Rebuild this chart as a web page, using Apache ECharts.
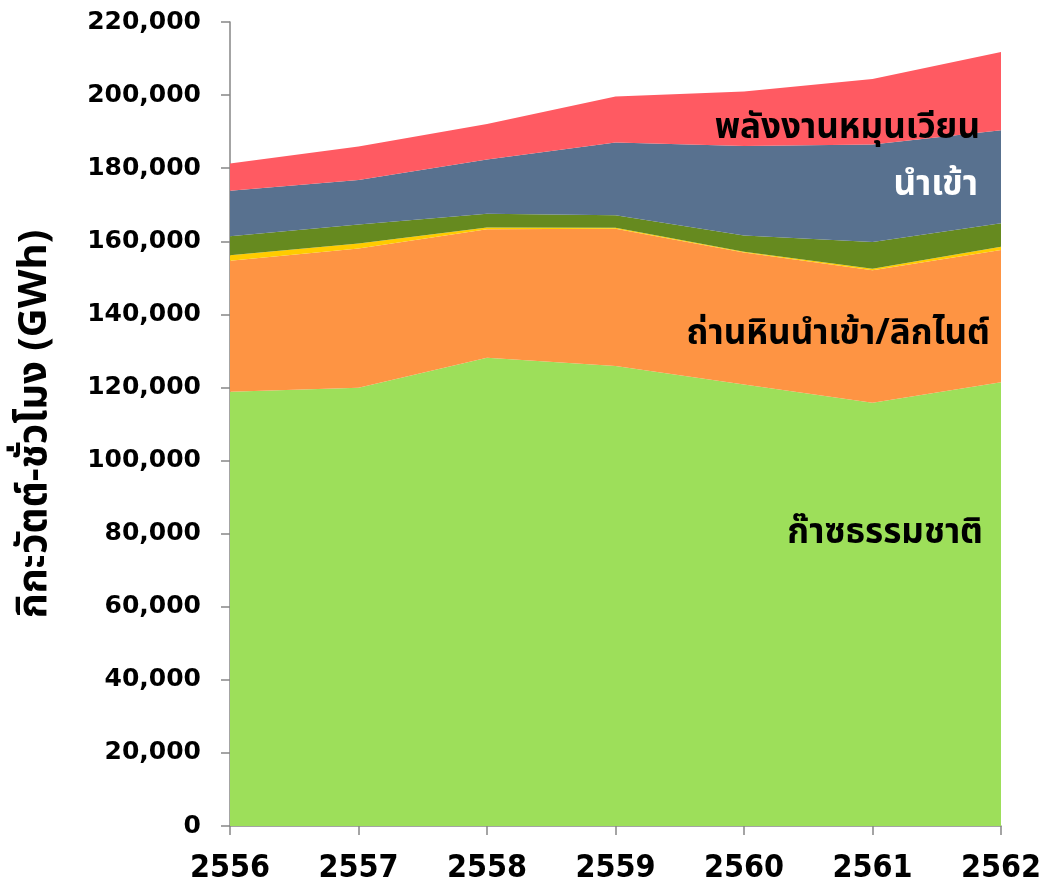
<!DOCTYPE html>
<html>
<head>
<meta charset="utf-8">
<script src="https://cdn.jsdelivr.net/npm/echarts@6/dist/echarts.min.js"></script>
<style>
  html, body { margin: 0; padding: 0; background: #fff; }
  #chart { width: 1041px; height: 886px; }
</style>
</head>
<body>
<div id="chart"></div>
<script>
// ปี พ.ศ.
const years = ["2556", "2557", "2558", "2559", "2560", "2561", "2562"];

// GWh, อ่านจากภาพ
const gas = [118800, 119900, 128100, 125900, 120800, 115800, 121400];
const coal = [35900, 38100, 35200, 37500, 36100, 36300, 36200];
const oil = [1500, 1400, 500, 300, 200, 400, 900];
const hydro = [5200, 5200, 3700, 3400, 4500, 7300, 6400];
const imported = [12400, 12200, 14900, 19900, 24500, 26700, 25500];
const renewable = [7500, 9100, 9700, 12600, 14900, 17900, 21400];

const yTicks = [0, 20000, 40000, 60000, 80000, 100000, 120000, 140000, 160000, 180000, 200000, 220000];

const thaiFont = "Tahoma, 'Noto Sans Thai', 'DejaVu Sans', sans-serif";

function area(name, data, color) {
  return {
    name: name,
    type: "line",
    stack: "total",
    data: data,
    symbol: "none",
    lineStyle: { width: 0 },
    areaStyle: { color: color, opacity: 1 },
    itemStyle: { color: color },
  };
}

// ป้ายชื่อในพื้นที่ (จุดยึดด้านขวา กึ่งกลางแนวตั้ง)
function label(text, x, y, fill) {
  return {
    type: "text",
    x: x,
    y: y,
    z: 100,
    style: {
      text: text,
      fill: fill,
      font: "bold 35px " + thaiFont,
      align: "right",
      verticalAlign: "middle",
    },
  };
}

const chart = echarts.init(document.getElementById("chart"));
chart.setOption({
  animation: false,
  grid: { left: 230, right: 40, top: 22, bottom: 60, outerBoundsMode: "none", containLabel: false },
  xAxis: {
    type: "category",
    data: years,
    boundaryGap: false,
    axisLine: { lineStyle: { color: "#868686", width: 1.5 } },
    axisTick: { length: 9, lineStyle: { color: "#868686", width: 1.5 } },
    axisLabel: {
      margin: 27,
      color: "#000",
      fontFamily: "'Liberation Sans Narrow', 'DejaVu Sans Condensed', sans-serif",
      fontWeight: "bold",
      fontSize: 32,
    },
    splitLine: { show: false },
  },
  yAxis: {
    type: "value",
    min: yTicks[0],
    max: yTicks[yTicks.length - 1],
    interval: 20000,
    name: "กิกะวัตต์-ชั่วโมง (GWh)",
    nameLocation: "middle",
    nameGap: 172,
    nameTextStyle: {
      color: "#000",
      fontFamily: thaiFont,
      fontWeight: "bold",
      fontSize: 40,
    },
    axisLine: { show: true, lineStyle: { color: "#868686", width: 1.5 } },
    axisTick: { show: true, length: 9, lineStyle: { color: "#868686", width: 1.5 } },
    axisLabel: {
      margin: 29,
      color: "#000",
      fontFamily: "'DejaVu Sans', Verdana, sans-serif",
      fontWeight: "bold",
      fontSize: 25,
      formatter: (v) => v.toLocaleString("en-US"),
    },
    splitLine: { show: false },
  },
  series: [
    area("ก๊าซธรรมชาติ", gas, "#9ddf5a"),
    area("ถ่านหินนำเข้า/ลิกไนต์", coal, "#fe9443"),
    area("น้ำมัน", oil, "#ffcc00"),
    area("พลังน้ำ", hydro, "#668a1f"),
    area("นำเข้า", imported, "#58718f"),
    area("พลังงานหมุนเวียน", renewable, "#ff5a62"),
  ],
  graphic: [
    label("ก๊าซธรรมชาติ", 983, 536, "#000"),
    label("ถ่านหินนำเข้า/ลิกไนต์", 990, 337, "#000"),
    label("นำเข้า", 978, 188, "#fff"),
    label("พลังงานหมุนเวียน", 980, 131, "#000"),
  ],
});
</script>
</body>
</html>
